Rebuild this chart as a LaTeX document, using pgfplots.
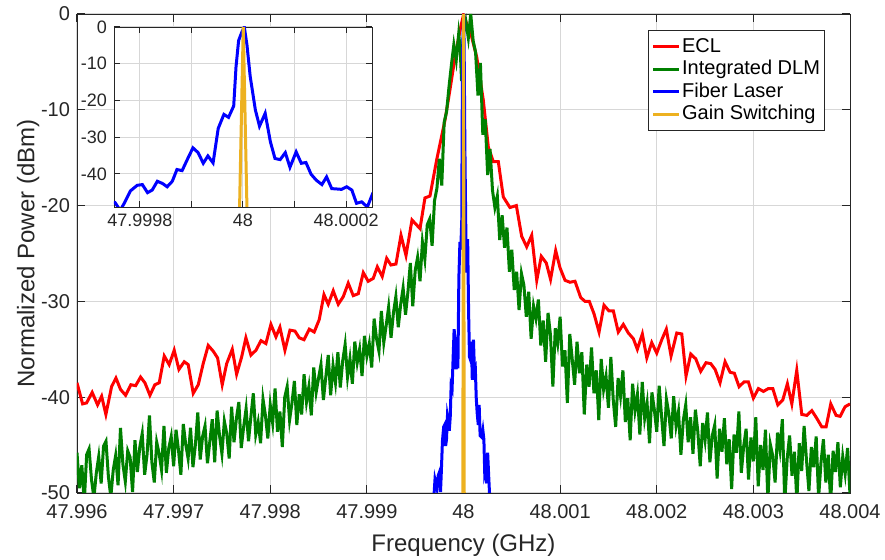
\documentclass[border=0pt]{standalone}
\usepackage{fontspec}
\setmainfont{Liberation Sans}
\usepackage{pgfplots}
\usepackage{pgfplotstable}
\pgfplotsset{compat=1.18}

\definecolor{mgray}{RGB}{38,38,38}
\definecolor{gridc}{RGB}{215,215,215}
\definecolor{eclred}{RGB}{255,0,0}
\definecolor{dlmgreen}{RGB}{0,128,0}
\definecolor{fiberblue}{RGB}{0,0,255}
\definecolor{gsorange}{RGB}{237,177,32}

% x = offset from 48 GHz in MHz, y = normalized power in dB
\pgfplotstableread{
x y
-4.000 -38.5
-3.942 -40.7
-3.901 -40.6
-3.843 -39.5
-3.787 -40.8
-3.745 -39.9
-3.701 -41.8
-3.642 -38.9
-3.597 -38.0
-3.549 -39.2
-3.497 -39.8
-3.442 -38.7
-3.393 -38.8
-3.342 -37.9
-3.297 -38.5
-3.245 -39.8
-3.194 -38.7
-3.149 -38.5
-3.097 -35.7
-3.046 -36.6
-2.994 -35.1
-2.945 -37.1
-2.890 -36.3
-2.849 -36.6
-2.797 -39.6
-2.745 -38.7
-2.694 -36.5
-2.642 -34.6
-2.590 -35.2
-2.545 -35.9
-2.497 -38.7
-2.451 -36.5
-2.393 -35.0
-2.348 -37.6
-2.296 -35.8
-2.252 -33.8
-2.200 -35.6
-2.148 -35.1
-2.096 -34.1
-2.045 -34.4
-1.993 -32.4
-1.941 -33.7
-1.900 -32.7
-1.848 -35.1
-1.796 -33.0
-1.744 -33.1
-1.700 -33.8
-1.651 -34.0
-1.596 -32.9
-1.545 -33.2
-1.493 -31.9
-1.444 -29.3
-1.400 -30.3
-1.348 -28.9
-1.296 -30.3
-1.244 -29.5
-1.193 -28.1
-1.141 -29.4
-1.089 -29.2
-1.037 -27.0
-0.986 -27.9
-0.934 -27.6
-0.892 -26.4
-0.841 -27.4
-0.795 -25.5
-0.751 -26.2
-0.699 -26.1
-0.647 -23.1
-0.595 -25.2
-0.533 -21.5
-0.450 -22.4
-0.399 -19.2
-0.347 -19.0
-0.277 -15.2
-0.192 -11.1
-0.140 -7.9
-0.088 -4.5
-0.036 -1.7
0.000 -0.1
0.033 -1.0
0.085 -2.4
0.137 -4.5
0.205 -9.0
0.257 -13.9
0.308 -15.4
0.360 -15.4
0.412 -19.1
0.481 -20.2
0.547 -20.0
0.602 -23.2
0.654 -24.3
0.706 -23.1
0.758 -27.8
0.805 -25.3
0.857 -26.0
0.901 -27.7
0.954 -24.7
0.999 -26.5
1.051 -27.8
1.102 -28.0
1.154 -27.9
1.213 -29.6
1.258 -30.0
1.302 -30.0
1.351 -31.3
1.403 -33.2
1.454 -30.4
1.506 -31.0
1.551 -31.0
1.602 -33.2
1.654 -32.4
1.706 -33.3
1.758 -33.9
1.799 -35.0
1.851 -33.4
1.897 -35.9
1.948 -34.3
2.000 -35.4
2.052 -34.0
2.099 -32.9
2.148 -35.7
2.207 -33.3
2.259 -33.4
2.303 -37.8
2.352 -35.5
2.404 -36.0
2.455 -37.3
2.510 -36.4
2.559 -36.5
2.604 -37.1
2.655 -38.5
2.707 -36.3
2.759 -37.4
2.803 -37.5
2.852 -38.9
2.904 -38.4
2.948 -38.4
3.000 -40.1
3.052 -39.1
3.104 -39.4
3.155 -39.1
3.201 -39.1
3.253 -40.8
3.304 -40.3
3.352 -38.6
3.398 -40.7
3.449 -37.2
3.501 -41.8
3.553 -41.9
3.605 -41.4
3.656 -42.2
3.708 -43.1
3.753 -43.1
3.801 -40.7
3.856 -41.9
3.898 -42.0
3.949 -41.0
4.000 -40.7
}\ecl

\pgfplotstableread{
x y
-4.000 -45.8
-3.975 -49.5
-3.950 -47.1
-3.925 -51.0
-3.900 -46.0
-3.875 -45.4
-3.850 -48.6
-3.825 -50.5
-3.800 -47.9
-3.775 -46.2
-3.750 -49.0
-3.725 -45.1
-3.700 -44.6
-3.675 -48.3
-3.650 -50.4
-3.625 -47.6
-3.600 -46.1
-3.575 -49.2
-3.550 -43.2
-3.525 -47.0
-3.500 -48.8
-3.475 -45.6
-3.450 -46.3
-3.425 -49.9
-3.400 -44.5
-3.375 -47.8
-3.350 -45.2
-3.325 -43.8
-3.300 -48.1
-3.275 -46.0
-3.250 -41.9
-3.225 -46.8
-3.200 -48.9
-3.175 -44.7
-3.150 -45.9
-3.125 -47.6
-3.100 -43.0
-3.075 -47.9
-3.050 -45.3
-3.025 -44.1
-3.000 -47.2
-2.975 -43.4
-2.950 -45.5
-2.925 -48.1
-2.900 -42.8
-2.875 -44.9
-2.850 -46.4
-2.825 -43.2
-2.800 -47.3
-2.775 -45.0
-2.750 -41.6
-2.725 -46.5
-2.700 -44.1
-2.675 -43.0
-2.650 -46.9
-2.625 -44.6
-2.600 -42.3
-2.575 -46.8
-2.550 -41.4
-2.525 -44.0
-2.500 -45.9
-2.475 -42.5
-2.450 -43.8
-2.425 -46.4
-2.400 -41.0
-2.375 -44.7
-2.350 -42.2
-2.325 -40.5
-2.300 -45.3
-2.275 -43.1
-2.250 -41.2
-2.225 -44.6
-2.200 -42.0
-2.175 -39.6
-2.150 -43.9
-2.125 -42.6
-2.100 -44.8
-2.075 -40.2
-2.050 -41.9
-2.025 -44.3
-2.000 -40.8
-1.975 -42.7
-1.950 -39.1
-1.925 -43.6
-1.900 -41.5
-1.875 -45.2
-1.850 -40.0
-1.825 -38.9
-1.800 -42.4
-1.775 -40.6
-1.750 -38.3
-1.725 -42.9
-1.700 -39.7
-1.675 -41.8
-1.650 -37.6
-1.625 -40.5
-1.600 -38.9
-1.575 -41.9
-1.550 -36.9
-1.525 -39.5
-1.500 -38.0
-1.475 -36.6
-1.450 -40.3
-1.425 -37.9
-1.400 -35.6
-1.375 -39.8
-1.350 -36.7
-1.325 -38.5
-1.300 -35.3
-1.275 -39.0
-1.250 -36.2
-1.225 -34.5
-1.200 -37.9
-1.175 -36.0
-1.150 -38.6
-1.125 -34.2
-1.100 -36.4
-1.075 -35.0
-1.050 -37.8
-1.025 -33.6
-1.000 -35.7
-0.975 -34.4
-0.950 -36.9
-0.925 -31.8
-0.900 -33.9
-0.875 -35.2
-0.850 -31.0
-0.825 -34.3
-0.800 -32.5
-0.775 -30.6
-0.750 -33.8
-0.725 -31.2
-0.700 -29.5
-0.675 -32.7
-0.650 -30.3
-0.625 -28.6
-0.600 -31.4
-0.575 -29.0
-0.550 -26.0
-0.525 -30.5
-0.500 -26.8
-0.475 -25.4
-0.450 -27.9
-0.425 -23.8
-0.400 -25.6
-0.375 -22.0
-0.350 -21.4
-0.325 -24.2
-0.300 -19.5
-0.275 -18.2
-0.250 -15.1
-0.225 -17.9
-0.200 -11.3
-0.175 -10.2
-0.150 -7.6
-0.125 -5.3
-0.100 -3.2
-0.075 -4.8
-0.050 -2.1
-0.035 -3.5
-0.020 -7.0
0.000 -2.0
0.025 -0.8
0.050 -2.5
0.075 0.0
0.100 -2.8
0.125 -4.0
0.150 -8.5
0.175 -5.1
0.200 -12.6
0.225 -11.0
0.250 -16.8
0.275 -14.1
0.300 -18.4
0.325 -20.2
0.350 -19.0
0.375 -23.6
0.400 -21.0
0.425 -24.4
0.450 -22.3
0.475 -26.9
0.500 -24.6
0.525 -28.8
0.550 -26.9
0.575 -30.9
0.600 -27.1
0.625 -28.3
0.650 -31.6
0.675 -29.0
0.700 -33.9
0.725 -30.5
0.750 -31.8
0.775 -29.8
0.800 -34.6
0.825 -32.0
0.850 -36.3
0.875 -31.2
0.900 -33.5
0.925 -38.9
0.950 -32.8
0.975 -34.4
1.000 -31.6
1.025 -36.8
1.050 -35.1
1.075 -40.6
1.100 -33.4
1.125 -36.0
1.150 -38.7
1.175 -34.2
1.200 -37.5
1.225 -35.3
1.250 -41.8
1.275 -36.6
1.300 -38.9
1.325 -34.8
1.350 -39.6
1.375 -37.2
1.400 -42.4
1.425 -36.0
1.450 -39.2
1.475 -37.8
1.500 -41.1
1.525 -35.8
1.550 -40.3
1.575 -43.1
1.600 -38.0
1.625 -39.9
1.650 -37.2
1.675 -42.6
1.700 -40.1
1.725 -44.5
1.750 -38.6
1.775 -41.4
1.800 -39.7
1.825 -43.9
1.850 -38.4
1.875 -42.2
1.900 -40.6
1.925 -44.8
1.950 -39.5
1.975 -41.3
2.000 -43.6
2.025 -38.8
2.050 -42.0
2.075 -45.1
2.100 -40.2
2.125 -41.7
2.150 -44.3
2.175 -39.9
2.200 -43.0
2.225 -41.5
2.250 -46.0
2.275 -42.4
2.300 -40.8
2.325 -44.7
2.350 -42.1
2.375 -45.9
2.400 -41.3
2.425 -43.6
2.450 -47.2
2.475 -42.7
2.500 -44.5
2.525 -41.6
2.550 -46.8
2.575 -44.0
2.600 -42.9
2.625 -48.5
2.650 -43.3
2.675 -45.7
2.700 -42.2
2.725 -47.0
2.750 -44.4
2.775 -49.6
2.800 -43.9
2.825 -45.8
2.850 -41.5
2.875 -47.9
2.900 -45.1
2.925 -43.3
2.950 -48.6
2.975 -44.2
3.000 -46.7
3.025 -42.1
3.050 -49.3
3.075 -45.0
3.100 -47.6
3.125 -43.4
3.150 -50.8
3.175 -44.9
3.200 -46.1
3.225 -48.9
3.250 -43.7
3.275 -45.5
3.300 -42.3
3.325 -51.0
3.350 -46.4
3.375 -44.0
3.400 -48.2
3.425 -45.7
3.450 -50.9
3.475 -44.8
3.500 -47.7
3.525 -43.0
3.550 -46.6
3.575 -49.8
3.600 -45.2
3.625 -47.3
3.650 -44.1
3.675 -50.5
3.700 -46.8
3.725 -44.4
3.750 -48.9
3.775 -46.0
3.800 -51.0
3.825 -45.6
3.850 -47.8
3.875 -44.7
3.900 -49.4
3.925 -46.2
3.950 -48.0
3.975 -45.3
4.000 -50.2
}\dlm

\pgfplotstableread{
x y
-0.310 -51.0
-0.295 -48.6
-0.275 -49.5
-0.262 -48.2
-0.248 -47.8
-0.238 -49.9
-0.231 -48.2
-0.218 -44.6
-0.205 -43.1
-0.195 -42.9
-0.185 -45.1
-0.176 -44.4
-0.166 -42.0
-0.156 -42.6
-0.147 -43.5
-0.137 -42.0
-0.128 -38.8
-0.118 -39.1
-0.108 -36.1
-0.097 -32.9
-0.087 -34.2
-0.077 -37.1
-0.068 -35.1
-0.058 -37.0
-0.048 -27.6
-0.037 -23.8
-0.028 -24.6
-0.018 -21.5
-0.0135 -10.8
-0.0085 -3.7
-0.002 -1.3
0.0025 0.0
0.0077 -4.9
0.014 -13.5
0.024 -22.6
0.032 -27.0
0.043 -23.5
0.053 -31.2
0.062 -35.8
0.072 -36.1
0.082 -34.2
0.091 -38.2
0.103 -34.0
0.113 -37.1
0.122 -36.9
0.132 -40.1
0.142 -41.7
0.153 -42.9
0.162 -40.8
0.172 -44.0
0.182 -44.1
0.191 -44.2
0.201 -43.5
0.211 -44.4
0.220 -48.0
0.230 -47.6
0.241 -49.0
0.250 -45.8
0.262 -48.5
0.274 -51.0
}\fiber

\pgfplotstableread{
x y
-0.0075 -55
0.0005 0
0.0085 -55
}\gainsw

\pgfplotsset{
  mstyle/.style={
    scale only axis,
    axis line style={mgray},
    tick style={mgray, line width=0.5pt},
    major tick length=4pt,
    grid=major,
    major grid style={gridc, line width=0.5pt},
    ticklabel style={mgray},
    /pgf/number format/assume math mode=true,
  },
}

\begin{document}
\begin{tikzpicture}
\begin{axis}[
  mstyle,
  width=386.5pt, height=239.5pt,
  xmin=-4, xmax=4, ymin=-50, ymax=0,
  xtick={-4,-3,...,4},
  xticklabels={47.996,47.997,47.998,47.999,48,48.001,48.002,48.003,48.004},
  ytick={-50,-40,...,0},
  ticklabel style={font=\fontsize{10pt}{12pt}\selectfont},
  xticklabel style={yshift=-2pt},
  xlabel={Frequency (GHz)},
  ylabel={Normalized Power (dBm)},
  label style={font=\fontsize{12pt}{14pt}\selectfont, text=mgray},
  xlabel style={yshift=-1pt},
  ylabel style={yshift=-6pt},
  legend style={at={(1,1)}, anchor=north east, xshift=-12.5pt, yshift=-8pt,
    draw=mgray, fill=white, font=\fontsize{10pt}{12pt}\selectfont,
    row sep=-1.5pt, inner xsep=1.5pt, inner ysep=2pt,
    nodes={inner xsep=0.8pt}},
  legend cell align=left,
  legend image code/.code={\draw[#1] (0pt,0pt) -- (13pt,0pt);},
]
\addplot[eclred, line width=1.5pt] table {\ecl};
\addlegendentry{ECL}
\addplot[dlmgreen, line width=1.5pt] table {\dlm};
\addlegendentry{Integrated DLM}
\addplot[fiberblue, line width=1.5pt] table {\fiber};
\addlegendentry{Fiber Laser}
\addplot[gsorange, line width=1.5pt] table {\gainsw};
\addlegendentry{Gain Switching}
\end{axis}

\begin{axis}[
  mstyle,
  at={(18.5pt,143pt)}, anchor=south west,
  width=129pt, height=90pt,
  axis background/.style={fill=white},
  xmin=-0.25, xmax=0.25, ymin=-49, ymax=0,
  xtick={-0.2,-0.1,0,0.1,0.2},
  xticklabels={47.9998,,48,,48.0002},
  ytick={-40,-30,-20,-10,0},
  ticklabel style={font=\fontsize{9pt}{11pt}\selectfont},
  major tick length=3pt,
]
\addplot[fiberblue, line width=1.5pt] table {\fiber};
\addplot[gsorange, line width=1.5pt] table {\gainsw};
\end{axis}

\pgfresetboundingbox
\path[use as bounding box] (-38.5pt,-33.5pt) rectangle (404pt,246.5pt);
\end{tikzpicture}
\end{document}
